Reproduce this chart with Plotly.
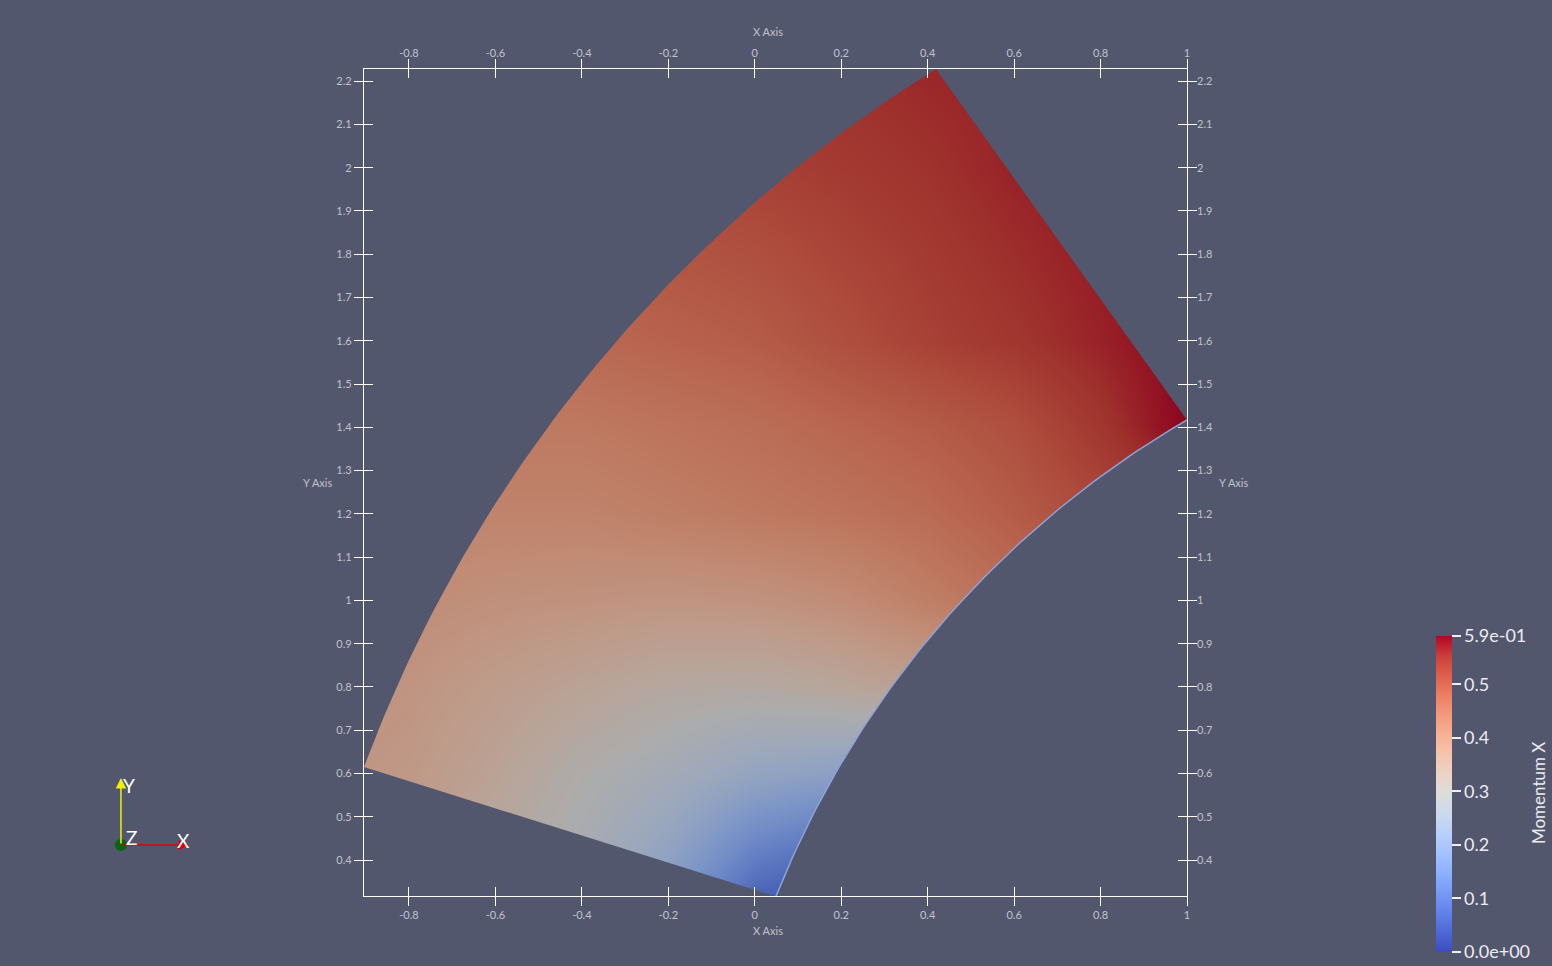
import numpy as np
import plotly.graph_objects as go

x_grid = [-1.0, -0.8, -0.6, -0.4, -0.2, 0.0, 0.2, 0.4, 0.6, 0.8, 1.0, 1.2]
y_grid = [0.2, 0.4, 0.6, 0.8, 1.0, 1.2, 1.4, 1.6, 1.8, 2.0, 2.2, 2.4]
momentum_x = [
    [0.35, 0.33, 0.30, 0.25, 0.17, 0.00, 0.00, 0.04, 0.06, 0.08, 0.10, 0.10],
    [0.37, 0.35, 0.32, 0.28, 0.22, 0.12, 0.07, 0.10, 0.12, 0.14, 0.16, 0.16],
    [0.38, 0.37, 0.34, 0.30, 0.27, 0.23, 0.21, 0.22, 0.24, 0.26, 0.28, 0.28],
    [0.39, 0.38, 0.36, 0.34, 0.32, 0.315, 0.33, 0.35, 0.36, 0.38, 0.40, 0.40],
    [0.40, 0.40, 0.39, 0.385, 0.38, 0.385, 0.40, 0.43, 0.46, 0.48, 0.50, 0.50],
    [0.42, 0.42, 0.42, 0.42, 0.43, 0.44, 0.45, 0.465, 0.49, 0.52, 0.54, 0.54],
    [0.44, 0.44, 0.44, 0.44, 0.45, 0.46, 0.475, 0.49, 0.51, 0.545, 0.59, 0.59],
    [0.46, 0.46, 0.46, 0.47, 0.48, 0.49, 0.51, 0.53, 0.545, 0.565, 0.59, 0.59],
    [0.49, 0.49, 0.49, 0.49, 0.50, 0.51, 0.525, 0.54, 0.555, 0.57, 0.58, 0.58],
    [0.52, 0.52, 0.52, 0.52, 0.52, 0.53, 0.54, 0.55, 0.565, 0.57, 0.58, 0.58],
    [0.54, 0.54, 0.54, 0.54, 0.54, 0.54, 0.55, 0.56, 0.565, 0.57, 0.57, 0.57],
    [0.55, 0.55, 0.55, 0.55, 0.55, 0.55, 0.555, 0.56, 0.565, 0.57, 0.57, 0.57],
]
m_min, m_max = 0.0, 0.59

# duct outline: corners and the common centre of the two walls
arc_center = (2.112, -0.515)
corner_a = (-0.904, 0.615)   # outer wall / inlet
corner_b = (0.049, 0.316)    # inner wall / inlet
corner_c = (1.0, 1.417)      # inner wall / outlet
corner_d = (0.419, 2.228)    # outer wall / outlet

# axis ticks
x_ticks = [-0.8, -0.6, -0.4, -0.2, 0.0, 0.2, 0.4, 0.6, 0.8, 1.0]
x_ticktext = ['-0.8', '-0.6', '-0.4', '-0.2', '0', '0.2', '0.4', '0.6', '0.8', '1']
y_ticks = [0.4, 0.5, 0.6, 0.7, 0.8, 0.9, 1.0, 1.1, 1.2, 1.3, 1.4, 1.5, 1.6, 1.7, 1.8, 1.9, 2.0, 2.1, 2.2]
y_ticktext = ['0.4', '0.5', '0.6', '0.7', '0.8', '0.9', '1', '1.1', '1.2', '1.3', '1.4', '1.5',
              '1.6', '1.7', '1.8', '1.9', '2', '2.1', '2.2']
x_range = [-0.904, 1.0]
y_range = [0.317, 2.228]

# colorbar ticks
cb_ticks = [0.0, 0.1, 0.2, 0.3, 0.4, 0.5, 0.59]
cb_ticktext = ['0.0e+00', '0.1', '0.2', '0.3', '0.4', '0.5', '5.9e-01']

# Cool to Warm
cool_warm = [(59, 76, 192), (77, 104, 215), (98, 130, 234), (119, 154, 247), (141, 176, 254),
             (163, 194, 255), (184, 208, 249), (204, 217, 238), (221, 221, 221), (236, 211, 197),
             (245, 196, 173), (247, 177, 148), (244, 154, 123), (236, 127, 99), (222, 96, 77),
             (203, 62, 56), (180, 4, 38)]

BG = '#52576e'
shade = 0.78  # surface lighting makes the mesh darker than the colorbar


def make_scale(k):
    n = len(cool_warm) - 1
    return [[i / n, 'rgb(%d,%d,%d)' % tuple(round(c * k) for c in rgb)] for i, rgb in enumerate(cool_warm)]


def wall(p, q, n=80):
    a0 = np.arctan2(p[1] - arc_center[1], p[0] - arc_center[0])
    a1 = np.arctan2(q[1] - arc_center[1], q[0] - arc_center[0])
    r0 = np.hypot(p[0] - arc_center[0], p[1] - arc_center[1])
    r1 = np.hypot(q[0] - arc_center[0], q[1] - arc_center[1])
    a = np.linspace(a0, a1, n)
    r = np.linspace(r0, r1, n)
    return list(arc_center[0] + r * np.cos(a)), list(arc_center[1] + r * np.sin(a))


outer_x, outer_y = wall(corner_d, corner_a)
inner_x, inner_y = wall(corner_b, corner_c)

# background coloured masks outside the duct
X0, X1, Y0, Y1 = -1.3, 1.4, 0.0, 2.6
mx, my = [], []
for px, py in [
    ([X0, corner_d[0]] + outer_x + [X0], [Y1, Y1] + outer_y + [corner_a[1]]),
    ([corner_a[0], corner_b[0], corner_b[0], X0, X0], [corner_a[1], corner_b[1], Y0, Y0, corner_a[1]]),
    (inner_x + [X1, X1, corner_b[0]], inner_y + [corner_c[1], Y0, Y0]),
    ([corner_c[0], corner_d[0], corner_d[0], X1, X1], [corner_c[1], corner_d[1], Y1, Y1, corner_c[1]]),
]:
    mx += px + [None]
    my += py + [None]

fig = go.Figure()
fig.add_trace(go.Heatmap(x=x_grid, y=y_grid, z=momentum_x, zmin=m_min, zmax=m_max,
                         colorscale=make_scale(shade), zsmooth='best', showscale=False,
                         hoverinfo='skip'))
fig.add_trace(go.Scatter(x=mx, y=my, mode='lines', fill='toself', fillcolor=BG,
                         line=dict(width=0, color=BG), hoverinfo='skip', showlegend=False))
fig.add_trace(go.Scatter(x=inner_x, y=inner_y, mode='lines', line=dict(color='#8da2da', width=1.5),
                         hoverinfo='skip', showlegend=False))
# colorbar carrier
fig.add_trace(go.Scatter(x=[None], y=[None], mode='markers', showlegend=False,
                         marker=dict(color=[m_min], cmin=m_min, cmax=m_max, colorscale=make_scale(1.0),
                                     showscale=True,
                                     colorbar=dict(x=1.3026, xanchor='left', y=-0.0677, yanchor='bottom',
                                                   len=316, lenmode='pixels', thickness=16,
                                                   xpad=0, ypad=0, outlinewidth=0,
                                                   tickvals=cb_ticks, ticktext=cb_ticktext,
                                                   ticks='outside', ticklen=9, tickwidth=1.5,
                                                   tickcolor='#f0f0f0',
                                                   tickfont=dict(family='Lato', size=18, color='#ececf0')))))
# carrier for the top / right axes
fig.add_trace(go.Scatter(x=[None], y=[None], xaxis='x2', yaxis='y2', showlegend=False))

tick_font = dict(family='Lato', size=11, color='#c2c2cc')
common = dict(showgrid=False, zeroline=False, tickcolor='white', tickwidth=1.2, ticklen=9,
              tickfont=tick_font)
fig.update_layout(
    width=1552, height=966,
    margin=dict(l=364, r=365, t=69, b=70),
    paper_bgcolor=BG, plot_bgcolor=BG,
    showlegend=False,
    xaxis=dict(range=x_range, showline=True, linecolor='white', linewidth=1.2, mirror='ticks',
               ticks='outside', tickvals=x_ticks, ticktext=x_ticktext, **common),
    yaxis=dict(range=y_range, showline=True, linecolor='white', linewidth=1.2, mirror='ticks',
               ticks='outside', tickvals=y_ticks, ticktext=y_ticktext, **common),
    xaxis2=dict(range=x_range, overlaying='x', side='top', anchor='y2', showline=False, mirror='ticks',
                ticks='inside', ticklabelstandoff=9, tickvals=x_ticks, ticktext=x_ticktext, **common),
    yaxis2=dict(range=y_range, overlaying='y', side='right', anchor='x2', showline=False, mirror='ticks',
                ticks='inside', ticklabelstandoff=9, tickvals=y_ticks, ticktext=y_ticktext, **common),
)

centred = dict(xref='paper', yref='paper', xanchor='center', yanchor='middle', showarrow=False)

lab_font = dict(family='Lato', size=11, color='#c2c2cc')
for x, y, text in [(0.4909, 1.0459, 'X Axis'), (0.4909, -0.0423, 'X Axis'),
                   (-0.0559, 0.4994, 'Y Axis'), (1.0571, 0.4994, 'Y Axis')]:
    fig.add_annotation(x=x, y=y, text=text, font=lab_font, **centred)

# colorbar title
fig.add_annotation(x=1.4265, y=0.1245, text='Momentum X', textangle=-90,
                   font=dict(family='Lato', size=17, color='#ececf0'), **centred)

# orientation triad
ox, oy = -0.2953, 0.0617
fig.add_annotation(xref='paper', yref='paper', x=ox, y=0.1427, ax=0, ay=67, text='',
                   showarrow=True, arrowhead=2, arrowsize=1.4, arrowwidth=1.5, arrowcolor='#f0f000')
fig.add_annotation(xref='paper', yref='paper', x=-0.2126, y=oy, ax=-68, ay=0, text='',
                   showarrow=True, arrowhead=2, arrowsize=1.4, arrowwidth=1.5, arrowcolor='#e00000')
fig.add_shape(type='circle', xref='paper', yref='paper', x0=ox - 0.0073, x1=ox + 0.0073,
              y0=oy - 0.0073, y1=oy + 0.0073, fillcolor='#0a6414', line=dict(width=0))
for t, tx, ty in [('Y', -0.2855, 0.1342), ('Z', -0.2831, 0.0713), ('X', -0.2199, 0.0677)]:
    fig.add_annotation(x=tx, y=ty, text=t, font=dict(family='Lato', size=19, color='white'), **centred)

# drop the page's default 8px body margin so the figure fills the window
fig.write_html("out.html", config={'displayModeBar': False},
               post_script="document.body.style.margin='0';document.body.style.background='%s';" % BG)
